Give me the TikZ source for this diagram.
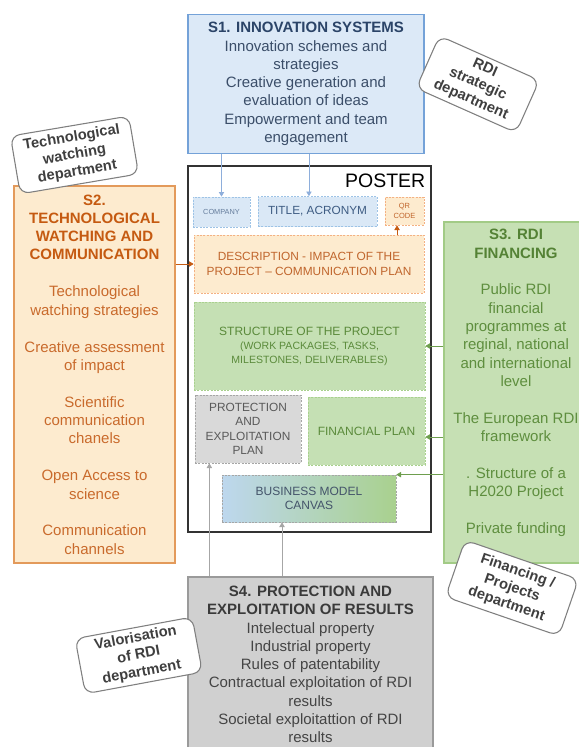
\documentclass[tikz,border=0pt]{standalone}
\usepackage{fontspec}
\setmainfont{Liberation Sans}
\usetikzlibrary{arrows.meta}

\definecolor{s1Fill}{HTML}{DCE9F7}
\definecolor{s1Line}{HTML}{74A2D8}
\definecolor{s1Head}{HTML}{2B4468}
\definecolor{s1Body}{HTML}{3B4E69}
\definecolor{s1Arrow}{HTML}{8EAEDB}
\definecolor{s2Fill}{HTML}{FDEBCF}
\definecolor{s2Line}{HTML}{E39A5B}
\definecolor{s2Head}{HTML}{C55A11}
\definecolor{s2Body}{HTML}{C96A2C}
\definecolor{s3Fill}{HTML}{C6E0B4}
\definecolor{s3Line}{HTML}{A2CB86}
\definecolor{s3Head}{HTML}{548235}
\definecolor{s3Body}{HTML}{5E8E3E}
\definecolor{s3Arrow}{HTML}{6E9E4E}
\definecolor{s4Fill}{HTML}{D0D0D0}
\definecolor{s4Line}{HTML}{9A9A9A}
\definecolor{s4Head}{HTML}{3A3A3A}
\definecolor{s4Body}{HTML}{444444}
\definecolor{s4Arrow}{HTML}{A6A6A6}
\definecolor{blueCell}{HTML}{DAE8F6}
\definecolor{blueCellLine}{HTML}{9DC3E6}
\definecolor{blueText}{HTML}{3E5C83}
\definecolor{orangeCell}{HTML}{FDEBCF}
\definecolor{orangeCellLine}{HTML}{F4B183}
\definecolor{orangeText}{HTML}{C0652C}
\definecolor{greenCell}{HTML}{C5E0B4}
\definecolor{greenCellLine}{HTML}{A9D18E}
\definecolor{greenText}{HTML}{5A8A3A}
\definecolor{grayCell}{HTML}{D9D9D9}
\definecolor{grayCellLine}{HTML}{A6A6A6}
\definecolor{grayText}{HTML}{595959}
\definecolor{canvasL}{HTML}{BDD7EE}
\definecolor{canvasR}{HTML}{A9D18E}
\definecolor{canvasText}{HTML}{44546A}
\definecolor{deptLine}{HTML}{7F7F7F}
\definecolor{deptText}{HTML}{3F3F3F}

\newcommand{\hd}[2]{\textcolor{#1}{\textbf{#2}}}

\begin{document}
\begin{tikzpicture}[x=0.75pt, y=-0.75pt, >={Triangle[length=3.5pt, width=4pt]},
    sect/.style = {draw, line width=0.9pt, align=center, inner sep=0pt, font=\fontsize{11.25}{13.7}\selectfont},
    cell/.style = {draw, line width=0.5pt, dash pattern=on 1.5pt off 1pt, align=center, inner sep=0pt, font=\fontsize{8.9}{10.8}\selectfont},
    dept/.style = {draw=deptLine, fill=white, line width=0.8pt, rounded corners=7pt, align=center, inner sep=0pt, text=deptText, font=\fontsize{11}{13}\selectfont\bfseries},
    link/.style = {->, line width=0.6pt}]
    \useasboundingbox (0,0) rectangle (579,747);

    \node[sect, fill=s1Fill, draw=s1Line, text=s1Body, minimum width=177pt, minimum height=104.25pt] (s1) at (306,84) {\hd{s1Head}{S1. INNOVATION SYSTEMS}\\Innovation schemes and\\strategies\\Creative generation and\\evaluation of ideas\\Empowerment and team\\engagement};
    \node[sect, fill=s2Fill, draw=s2Line, text=s2Body, minimum width=120.75pt, minimum height=282.75pt] (s2) at (94.5,374.5) {\hd{s2Head}{S2.}\\\hd{s2Head}{TECHNOLOGICAL}\\\hd{s2Head}{WATCHING AND}\\\hd{s2Head}{COMMUNICATION}\\[14pt]Technological\\watching strategies\\[14pt]Creative assessment\\of impact\\[14pt]Scientific\\communication\\chanels\\[14pt]Open Access to\\science\\[14pt]Communication\\channels};
    \node[sect, fill=s3Fill, draw=s3Line, minimum width=108pt, minimum height=255.75pt] (s3) at (516,392.5) {};
    \node[align=center, inner sep=0pt, text=s3Body, font=\fontsize{11.25}{13.7}\selectfont] (s3txt) at (516,383) {\hd{s3Head}{S3. RDI}\\\hd{s3Head}{FINANCING}\\[14pt]Public RDI\\financial\\programmes at\\reginal, national\\and international\\level\\[14pt]The European RDI\\framework\\[14pt]. Structure of a\\H2020 Project\\[14pt]Private funding};
    \node[sect, fill=s4Fill, draw=s4Line, text=s4Body, minimum width=183.75pt, minimum height=131.25pt] (s4) at (310.5,664.5) {\hd{s4Head}{S4. PROTECTION AND}\\\hd{s4Head}{EXPLOITATION OF RESULTS}\\Intelectual property\\Industrial property\\Rules of patentability\\Contractual exploitation of RDI\\results\\Societal exploitattion of RDI\\results};

    \node[draw=black!80, line width=0.8pt, minimum width=182.25pt, minimum height=274.5pt] (poster) at (309.5,349) {};
    \node[anchor=north east, inner sep=0pt, font=\fontsize{14.6}{16}\selectfont] (postertitle) at ([xshift=-4.5pt, yshift=-6pt]poster.north east) {POSTER};

    \node[cell, fill=blueCell, draw=blueCellLine, text=blueText!80, minimum width=42.75pt, minimum height=22.5pt, font=\fontsize{5.5}{6.5}\selectfont] (company) at (221.5,212) {COMPANY};
    \node[cell, fill=blueCell, draw=blueCellLine, text=blueText, minimum width=89.25pt, minimum height=22.5pt, font=\fontsize{8.85}{10}\selectfont] (title) at (317.5,211.5) {TITLE, ACRONYM};
    \node[cell, fill=orangeCell, draw=orangeCellLine, text=orangeText, minimum width=29.25pt, minimum height=21pt, font=\fontsize{5.6}{7}\selectfont] (qr) at (404.5,211) {QR\\CODE};
    \node[cell, fill=orangeCell, draw=orangeCellLine, text=orangeText, minimum width=172.5pt, minimum height=43.5pt, font=\fontsize{8.9}{10.7}\selectfont] (desc) at (309,264) {DESCRIPTION - IMPACT OF THE\\PROJECT – COMMUNICATION PLAN};
    \node[cell, fill=greenCell, draw=greenCellLine, text=greenText, minimum width=173.25pt, minimum height=66pt, font=\fontsize{9}{10.5}\selectfont] (struct) at (309.5,346) {STRUCTURE OF THE PROJECT\\{\fontsize{7.9}{10.5}\selectfont (WORK PACKAGES, TASKS,}\\{\fontsize{7.9}{10.5}\selectfont MILESTONES, DELIVERABLES)}};
    \node[cell, fill=grayCell, draw=grayCellLine, text=grayText, minimum width=79.5pt, minimum height=51pt, font=\fontsize{8.9}{10.9}\selectfont] (prot) at (248,429) {PROTECTION\\AND\\EXPLOITATION\\PLAN};
    \node[cell, fill=greenCell, draw=greenCellLine, text=greenText, minimum width=87.75pt, minimum height=51pt, font=\fontsize{9}{10.8}\selectfont] (fin) at (366.5,431) {FINANCIAL PLAN};
    \node[cell, left color=canvasL, right color=canvasR, draw=grayCellLine, text=canvasText, minimum width=130.5pt, minimum height=35.25pt, font=\fontsize{9}{10.5}\selectfont] (canvas) at (309,498.5) {BUSINESS MODEL\\CANVAS};

    \coordinate (titlein) at ([xshift=-6.4pt]title.north);
    \coordinate (qrin) at ([xshift=-5.6pt]qr.south);
    \coordinate (finin) at ([yshift=-4.5pt]fin.east);
    \coordinate (protin) at ([xshift=11pt]prot.south west);
    \coordinate (canvasin) at ([xshift=-20.25pt]canvas.south);

\draw[link, s1Arrow] (s1.south -| company.north) -- (company.north);
\draw[link, s1Arrow] (s1.south -| titlein) -- (titlein);
\draw[link, s2Head] (s2.east |- desc.west) -- (desc.west);
\draw[link, s2Head] (desc.north -| qrin) -- (qrin);
\draw[link, s3Arrow] (s3.west |- struct.east) -- (struct.east);
\draw[link, s3Arrow] (s3.west |- finin) -- (finin);
\draw[link, s3Arrow] (s3.west |- canvas.north east) -- (canvas.north east);
\draw[link, s4Arrow] (s4.north -| protin) -- (protin);
\draw[link, s4Arrow] (s4.north -| canvasin) -- (canvasin);

    \node[dept, rotate=9.6, minimum width=90pt, minimum height=44pt] (techdept) at (74.5,155) {Technological\\watching\\department};
    \node[dept, rotate=-24, minimum width=82pt, minimum height=43pt] (stratdept) at (477.75,84.25) {RDI\\strategic\\department};
    \node[dept, rotate=-19, minimum width=90pt, minimum height=45pt] (findept) at (512,588) {Financing /\\Projects\\department};
    \node[dept, rotate=10.5, minimum width=89.25pt, minimum height=42pt] (valdept) at (138.75,655.4) {Valorisation\\of RDI\\department};
\end{tikzpicture}
\end{document}
